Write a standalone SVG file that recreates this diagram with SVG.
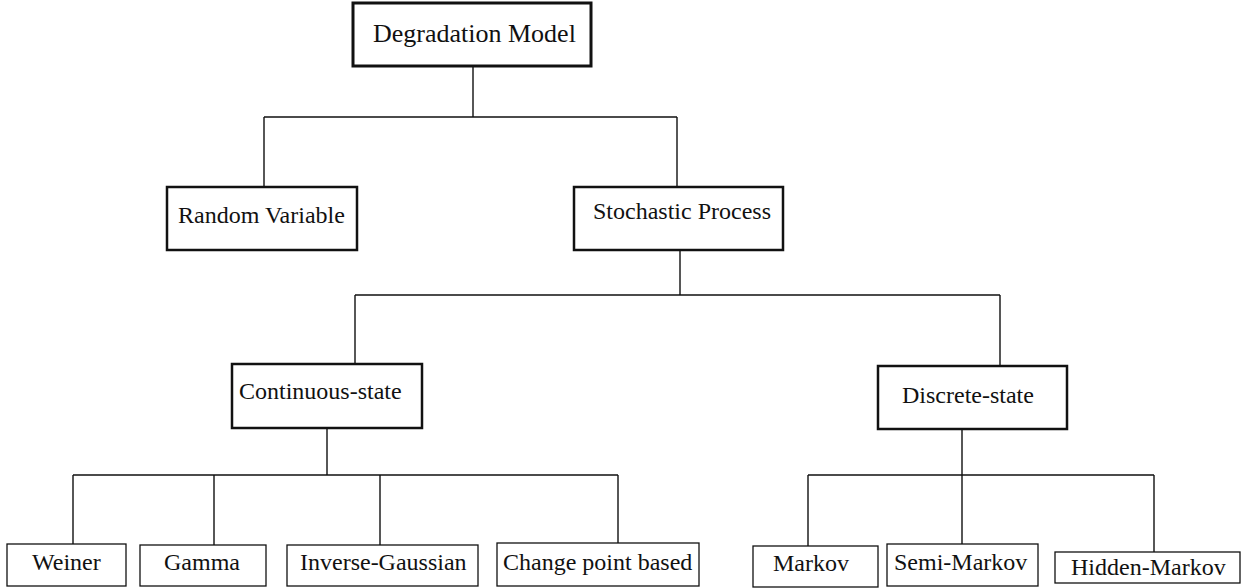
<svg xmlns="http://www.w3.org/2000/svg" width="1256" height="588" viewBox="0 0 1256 588">
<style>
.bx{fill:#fff;stroke:#111;stroke-width:2.5}
.bt{fill:#fff;stroke:#111;stroke-width:3}
.bs{fill:#fff;stroke:#111;stroke-width:1.3}
.t{font-family:"Liberation Serif","Times New Roman",serif;font-size:24px;fill:#111}
.c{stroke:#111;stroke-width:1.4;fill:none}
</style>
<rect width="1256" height="588" fill="#fff"/>
<g id="connectors">
<path class="c" d="M473 66V117M264 117H677M264 117V187M677 117V187"/>
<path class="c" d="M680 250V295M355 295H1000M355 295V364M1000 295V366"/>
<path class="c" d="M327 428V475M73 475H618M73 475V544M214 475V545M380 475V545M618 475V543"/>
<path class="c" d="M962 429V475M808 475H1154M808 475V546M962 475V544M1154 475V552"/>
</g>
<g id="degradation-model"><rect class="bt" x="353" y="3" width="238" height="63"/><text class="t" x="373" y="42" style="font-size:26px">Degradation Model</text></g>
<g id="random-variable"><rect class="bx" x="167" y="187" width="190" height="63"/><text class="t" x="178" y="223">Random Variable</text></g>
<g id="stochastic-process"><rect class="bx" x="574" y="187" width="209" height="63"/><text class="t" x="593" y="219">Stochastic Process</text></g>
<g id="continuous-state"><rect class="bx" x="232" y="364" width="190" height="64"/><text class="t" x="239" y="399">Continuous-state</text></g>
<g id="discrete-state"><rect class="bx" x="878" y="366" width="189" height="63"/><text class="t" x="902" y="403">Discrete-state</text></g>
<g id="weiner"><rect class="bs" x="7" y="544" width="119" height="42"/><text class="t" x="32" y="570">Weiner</text></g>
<g id="gamma"><rect class="bs" x="140" y="545" width="126" height="41"/><text class="t" x="164" y="570">Gamma</text></g>
<g id="inverse-gaussian"><rect class="bs" x="287" y="545" width="191" height="41"/><text class="t" x="300" y="570">Inverse-Gaussian</text></g>
<g id="change-point"><rect class="bs" x="497" y="543" width="202" height="43"/><text class="t" x="503" y="570">Change point based</text></g>
<g id="markov"><rect class="bs" x="753" y="546" width="125" height="41"/><text class="t" x="773" y="571">Markov</text></g>
<g id="semi-markov"><rect class="bs" x="887" y="544" width="151" height="42"/><text class="t" x="894" y="570">Semi-Markov</text></g>
<g id="hidden-markov"><rect class="bs" x="1055" y="552" width="185" height="31"/><text class="t" x="1071" y="575">Hidden-Markov</text></g>
</svg>
